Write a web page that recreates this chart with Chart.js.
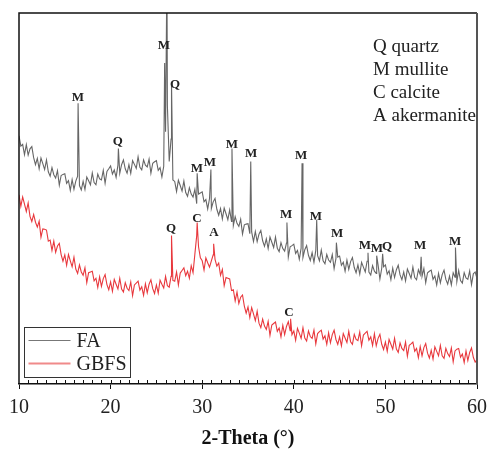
<!DOCTYPE html>
<html>
<head>
<meta charset="utf-8">
<script src="https://cdn.jsdelivr.net/npm/chart.js@4.4.1/dist/chart.umd.min.js"></script>
<style>
  body { margin: 0; background: #fff; }
  canvas { display: block; }
</style>
</head>
<body>
<canvas id="xrd" width="488" height="450"></canvas>
<script>
// 2-theta grid of the scans (deg)
const thetaStart = 10;
const thetaStep = 0.2;

// FA scan, arbitrary intensity, one value per grid step
const faCounts = [
  66.9, 64.1, 64.6, 61.8, 64.5,  61.7, 63.4, 64.0, 61.0, 59.1,
  60.8, 58.0, 60.9, 59.4, 57.8,  60.4, 57.2, 56.0, 58.3, 56.4,
  55.5, 57.5, 53.6, 56.2, 56.5,  56.7, 54.1, 54.8, 52.2, 55.1,
  52.5, 54.7, 56.0, 53.5, 52.3,  54.6, 52.4, 55.8, 54.8, 53.7,
  56.9, 54.3, 53.7, 56.6, 55.3,  55.0, 57.6, 54.1, 57.3, 58.0,
  58.8, 56.6, 57.7, 55.7, 59.0,  56.8, 59.1, 60.4, 58.0, 56.8,
  59.1, 56.8, 60.2, 59.2, 58.1,  61.2, 58.4, 57.7, 60.4, 59.0,
  58.5, 60.6, 56.8, 59.5, 59.9,  60.2, 57.6, 58.3, 55.8, 58.7,
  68.0, 75.0, 60.0, 66.0, 55.0,  54.6, 51.9, 54.9, 53.5, 52.0,
  54.7, 51.6, 50.6, 52.9, 51.2,  50.4, 52.5, 48.6, 51.2, 51.5,
  51.8, 49.1, 49.7, 47.2, 50.0,  47.3, 49.1, 50.0, 47.1, 45.5,
  47.3, 44.5, 47.4, 45.9, 44.3,  46.9, 43.8, 42.7, 45.1, 43.3,
  42.5, 44.4, 40.4, 42.9, 43.1,  43.2, 40.5, 41.0, 38.4, 41.1,
  38.4, 40.4, 41.4, 38.6, 37.1,  39.1, 36.5, 39.6, 38.2, 36.8,
  39.6, 36.6, 35.7, 38.1, 36.5,  35.8, 38.0, 34.2, 37.0, 37.3,
  37.7, 35.2, 36.0, 33.6, 36.6,  34.1, 36.2, 37.3, 34.7, 33.3,
  35.4, 32.8, 36.0, 34.6, 33.2,  36.1, 33.2, 32.4, 34.9, 33.4,
  32.8, 34.9, 31.1, 33.8, 34.2,  34.5, 32.0, 32.8, 30.4, 33.4,
  30.9, 33.0, 34.1, 31.4, 30.0,  32.1, 29.6, 32.8, 31.5, 30.2,
  33.1, 30.2, 29.4, 31.9, 30.4,  29.8, 32.1, 28.3, 31.2, 31.6,
  32.1, 29.6, 30.5, 28.1, 31.2,  28.7, 30.8, 32.0, 29.4, 28.1,
  30.2, 27.8, 31.0, 29.8, 28.5,  31.5, 28.7, 28.1, 30.8, 29.5,
  29.0, 31.1, 27.3, 30.0, 30.4,  30.7, 28.2, 29.1, 26.7, 29.8,
  27.3, 29.5, 30.7, 28.2, 26.9,  29.1, 26.7, 30.0, 28.8, 27.6,
  30.6, 27.9, 27.2, 30.0, 28.6,  28.2, 30.5, 26.8, 29.7, 30.2,
  28.4
];
// sharp FA reflections
const faPeakTheta = [16.45, 20.85, 25.9, 26.15, 26.65, 29.45, 30.95, 33.25, 35.3, 39.25, 40.9, 42.5, 44.65, 48.1, 49.05, 49.7, 53.9, 57.65];
const faPeakTop   = [75.7, 63.5, 86.5, 112, 81.1, 56.8, 57.8, 63.5, 60.0, 43.5, 59.5, 44.3, 38.1, 35.4, 34.6, 35.1, 34.3, 36.8];

// GBFS scan
const gbfsCounts = [
  51.0, 47.9, 50.4, 48.5, 46.5,  48.8, 45.2, 43.8, 45.7, 43.6,
  42.3, 43.9, 39.6, 41.8, 41.7,  41.5, 38.5, 38.8, 36.0, 38.5,
  35.5, 37.2, 37.9, 34.9, 33.1,  34.8, 32.0, 34.9, 33.2, 31.6,
  34.2, 31.0, 29.8, 32.1, 30.2,  29.3, 31.3, 27.3, 30.0, 30.2,
  30.4, 27.8, 28.5, 26.0, 28.9,  26.3, 28.4, 29.5, 26.8, 25.4,
  27.5, 25.0, 28.2, 26.9, 25.6,  28.5, 25.6, 24.8, 27.3, 25.8,
  25.2, 27.5, 23.8, 26.7, 27.2,  27.7, 25.3, 26.2, 23.9, 27.0,
  24.6, 26.9, 28.1, 25.7, 24.4,  26.7, 24.5, 28.0, 26.9, 25.9,
  29.0, 26.5, 26.1, 29.0, 27.9,  27.7, 30.2, 26.7, 29.9, 30.6,
  31.3, 29.2, 30.4, 28.5, 31.9,  30.0, 35.0, 40.0, 37.0, 34.0,
  33.2, 30.7, 34.0, 32.7, 31.5,  33.2, 34.8, 33.6, 31.8, 32.6,
  29.3, 30.9, 26.5, 28.7, 28.5,  28.3, 25.2, 25.4, 22.4, 24.8,
  21.7, 23.4, 24.0, 21.0, 19.1,  20.8, 17.9, 20.6, 18.9, 17.1,
  19.6, 16.4, 15.2, 17.5, 15.6,  14.7, 16.9, 13.1, 15.9, 16.3,
  16.7, 14.2, 15.1, 12.7, 15.8,  13.3, 15.5, 16.8, 14.4, 13.3,
  14.3, 11.8, 15.0, 13.7, 12.3,  15.2, 12.4, 11.6, 14.3, 12.8,
  12.3, 14.5, 10.8, 13.6, 14.1,  14.5, 12.1, 13.0, 10.7, 13.8,
  11.1, 13.3, 14.5, 12.0, 10.7,  12.7, 10.3, 13.6, 12.4, 11.2,
  14.2, 11.4, 10.7, 13.4, 12.0,  11.7, 14.0, 10.3, 13.2, 13.7,
  14.2, 11.8, 12.7, 10.4, 13.5,  10.3, 12.3, 13.4, 10.7, 9.3,
  11.3, 8.8, 12.0, 10.7, 9.4,  12.3, 9.4, 8.5, 11.1, 9.6,
  9.0, 11.3, 7.5, 10.4, 10.8,  11.3, 8.8, 9.6, 7.1, 10.1,
  7.6, 9.8, 10.9, 8.3, 7.0,  9.1, 6.7, 10.0, 8.8, 7.6,
  10.4, 7.6, 6.9, 9.6, 8.2,  7.4, 9.7, 6.0, 8.9, 9.4,
  9.6, 7.2, 8.1, 5.8, 8.9,  6.3, 8.5, 9.7, 7.2, 5.9,
  6.6
];
const gbfsPeakTheta = [26.65, 29.45, 31.25, 39.65];
const gbfsPeakTop   = [40.0, 43.5, 37.8, 17.6];

// phase letters written over the peaks
const faMarkText  = ['M', 'Q', 'M', 'Q', 'M', 'M', 'M', 'M', 'M', 'M', 'M', 'M', 'M', 'M', 'Q', 'M', 'M'];
const faMarkTheta = [16.44, 20.8, 25.83, 27.03, 29.43, 30.85, 33.25, 35.33, 39.15, 40.79, 42.42, 44.72, 47.77, 49.08, 50.17, 53.78, 57.6];
const faMarkY     = [77.3, 65.4, 91.1, 80.8, 58.1, 59.7, 64.6, 62.2, 45.7, 61.6, 45.1, 40.5, 37.3, 36.5, 37.0, 37.3, 38.4];
const gbfsMarkText  = ['Q', 'C', 'A', 'C'];
const gbfsMarkTheta = [26.6, 29.43, 31.29, 39.48];
const gbfsMarkY     = [41.9, 44.6, 40.8, 19.2];

const phaseKey = ['Q quartz', 'M mullite', 'C calcite', 'A akermanite'];

const serif = "'Liberation Serif', 'Times New Roman', serif";

function buildPoints(counts, peakTheta, peakTop) {
    let pts = counts.map((c, i) => ({ x: thetaStart + i * thetaStep, y: c }));
    peakTheta.forEach((t, i) => pts.push({ x: t, y: peakTop[i] }));
    return pts.sort((a, b) => a.x - b.x);
}

const decorPlugin = {
    id: 'decor',
    afterDatasetsDraw(chart) {
        const ctx = chart.ctx;
        const area = chart.chartArea;
        const xs = chart.scales.x;
        const ys = chart.scales.y;
        ctx.save();

        // frame
        ctx.strokeStyle = '#111';
        ctx.lineWidth = 1.5;
        ctx.beginPath();
        ctx.moveTo(area.left, area.bottom);
        ctx.lineTo(area.left, area.top);
        ctx.lineTo(area.right, area.top);
        ctx.stroke();
        ctx.strokeStyle = '#555';
        ctx.lineWidth = 2;
        ctx.beginPath();
        ctx.moveTo(area.right, area.top);
        ctx.lineTo(area.right, area.bottom);
        ctx.stroke();

        // minor ticks, pointing inward
        ctx.strokeStyle = '#111';
        ctx.lineWidth = 1;
        for (let v = 11; v < 60; v++) {
            const px = Math.round(xs.getPixelForValue(v)) + 0.5;
            ctx.beginPath();
            ctx.moveTo(px, area.bottom);
            ctx.lineTo(px, area.bottom - 4);
            ctx.stroke();
        }

        // phase letters
        ctx.fillStyle = '#222';
        ctx.font = 'bold 13px ' + serif;
        ctx.textAlign = 'center';
        ctx.textBaseline = 'middle';
        faMarkText.forEach((t, i) => {
            ctx.fillText(t, xs.getPixelForValue(faMarkTheta[i]), ys.getPixelForValue(faMarkY[i]));
        });
        gbfsMarkText.forEach((t, i) => {
            ctx.fillText(t, xs.getPixelForValue(gbfsMarkTheta[i]), ys.getPixelForValue(gbfsMarkY[i]));
        });

        // phase key, top right
        ctx.font = '19px ' + serif;
        ctx.textAlign = 'left';
        ctx.fillStyle = '#222';
        phaseKey.forEach((t, i) => {
            ctx.fillText(t, area.left + 354, area.top + 34 + i * 23);
        });

        // legend box, bottom left
        const bx = area.left + 5.5, by = area.bottom - 56.5;
        ctx.strokeStyle = '#333';
        ctx.lineWidth = 1;
        ctx.strokeRect(bx, by, 106, 50);
        const legendColors = ['#777', '#f08a8a'];
        const legendWidths = [1, 2];
        chart.data.datasets.forEach((ds, i) => {
            const ly = by + 13 + i * 23;
            ctx.strokeStyle = legendColors[i];
            ctx.lineWidth = legendWidths[i];
            ctx.beginPath();
            ctx.moveTo(bx + 4, ly);
            ctx.lineTo(bx + 46, ly);
            ctx.stroke();
            ctx.fillStyle = '#222';
            ctx.font = '20px ' + serif;
            ctx.fillText(ds.label, bx + 52, ly + 1);
        });

        ctx.restore();
    }
};

new Chart(document.querySelector('#xrd'), {
    type: 'line',
    data: {
        datasets: [{
            label: 'FA',
            data: buildPoints(faCounts, faPeakTheta, faPeakTop),
            borderColor: '#666',
            borderWidth: 1.1,
            pointRadius: 0,
            tension: 0
        }, {
            label: 'GBFS',
            data: buildPoints(gbfsCounts, gbfsPeakTheta, gbfsPeakTop),
            borderColor: '#e8383d',
            borderWidth: 1.1,
            pointRadius: 0,
            tension: 0
        }]
    },
    options: {
        responsive: false,
        animation: false,
        layout: {
            padding: { left: 19, right: 11, top: 13, bottom: 0 }
        },
        plugins: {
            legend: { display: false },
            tooltip: { enabled: false }
        },
        scales: {
            x: {
                type: 'linear',
                min: 10,
                max: 60,
                afterFit(scale) {
                    // let the end labels hang over the padding
                    scale.paddingLeft = 0;
                    scale.paddingRight = 0;
                },
                ticks: {
                    stepSize: 10,
                    padding: 7,
                    color: '#222',
                    font: { family: serif, size: 20 }
                },
                grid: {
                    drawOnChartArea: false,
                    tickLength: 5,
                    color: '#111'
                },
                border: { display: true, color: '#111', width: 1.5 },
                title: {
                    display: true,
                    text: '2-Theta (°)',
                    color: '#111',
                    padding: { top: 0, bottom: 0 },
                    font: { family: serif, size: 20, weight: 'bold', lineHeight: 1.15 }
                }
            },
            y: {
                display: false,
                min: 0,
                max: 100
            }
        }
    },
    plugins: [decorPlugin]
});
</script>
</body>
</html>
